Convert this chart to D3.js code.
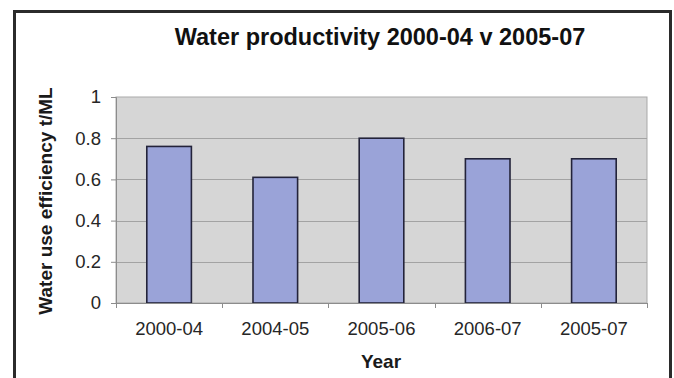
<!DOCTYPE html>
<html>
<head>
<meta charset="utf-8">
<script src="https://cdn.jsdelivr.net/npm/d3@7"></script>
<style>
  html, body { margin: 0; padding: 0; background: #fff; }
  svg { display: block; font-family: "Liberation Sans", Arial, Helvetica, sans-serif; }
</style>
</head>
<body>
<svg id="chart" width="674" height="378"></svg>
<script>
// Water use efficiency (t/ML) by period
const years = ["2000-04", "2004-05", "2005-06", "2006-07", "2005-07"];
const efficiency = [0.76, 0.61, 0.80, 0.70, 0.70];
const yTicks = [0, 0.2, 0.4, 0.6, 0.8, 1];
const yTickLabels = ["0", "0.2", "0.4", "0.6", "0.8", "1"];

const titleText = "Water productivity 2000-04 v 2005-07";
const xTitle = "Year";
const yTitle = "Water use efficiency t/ML";

const svg = d3.select("#chart");
const plot = { left: 116, right: 647, top: 97, bottom: 303 };

// Outer frame (open at the bottom edge of the canvas)
svg.append("path")
  .attr("d", "M14.5,380 L14.5,11.5 L670.5,11.5 L670.5,380")
  .attr("fill", "none")
  .attr("stroke", "#2b2b2b")
  .attr("stroke-width", 3);

const x = d3.scaleBand()
  .domain(years)
  .range([plot.left, plot.right])
  .paddingInner(0.58)
  .paddingOuter(0.29);

const y = d3.scaleLinear()
  .domain([0, 1])
  .range([plot.bottom, plot.top]);

// Plot area background
svg.append("rect")
  .attr("x", plot.left)
  .attr("y", plot.top)
  .attr("width", plot.right - plot.left)
  .attr("height", plot.bottom - plot.top)
  .attr("fill", "#d6d6d6")
  .attr("stroke", "#a9a9a9")
  .attr("stroke-width", 1);

// Horizontal gridlines
svg.append("g")
  .selectAll("line")
  .data(yTicks.filter(t => t > 0 && t < 1))
  .join("line")
  .attr("x1", plot.left)
  .attr("x2", plot.right)
  .attr("y1", d => Math.round(y(d)) + 0.5)
  .attr("y2", d => Math.round(y(d)) + 0.5)
  .attr("stroke", "#a3a3a3")
  .attr("stroke-width", 1);

// Bars
svg.append("g")
  .selectAll("rect")
  .data(years.map((c, i) => ({ c, v: efficiency[i] })))
  .join("rect")
  .attr("x", d => x(d.c))
  .attr("y", d => y(d.v))
  .attr("width", x.bandwidth())
  .attr("height", d => y(0) - y(d.v))
  .attr("fill", "#9aa3d8")
  .attr("stroke", "#23233a")
  .attr("stroke-width", 1.6);

// Y axis
const yAxis = d3.axisLeft(y)
  .tickValues(yTicks)
  .tickFormat((d, i) => yTickLabels[i])
  .tickSize(5)
  .tickPadding(10);

const gy = svg.append("g")
  .attr("transform", `translate(${plot.left},0)`)
  .call(yAxis);
gy.select(".domain").attr("stroke", "#8c8c8c");
gy.selectAll(".tick line").attr("stroke", "#8c8c8c");
gy.selectAll(".tick text")
  .attr("font-size", 18.5)
  .attr("font-family", "Liberation Sans, Arial, sans-serif")
  .attr("fill", "#262626");

// X axis; ticks sit on category boundaries
const xAxis = d3.axisBottom(x)
  .tickSize(0)
  .tickPadding(19);

const gx = svg.append("g")
  .attr("transform", `translate(0,${plot.bottom})`)
  .call(xAxis);
gx.select(".domain").attr("stroke", "#8c8c8c");
gx.selectAll(".tick text")
  .attr("font-size", 18.5)
  .attr("font-family", "Liberation Sans, Arial, sans-serif")
  .attr("fill", "#262626");

const boundaries = d3.range(years.length + 1).map(i => plot.left + i * x.step());
svg.append("g")
  .selectAll("line")
  .data(boundaries)
  .join("line")
  .attr("x1", d => Math.round(d) + 0.5)
  .attr("x2", d => Math.round(d) + 0.5)
  .attr("y1", plot.bottom)
  .attr("y2", plot.bottom + 5)
  .attr("stroke", "#8c8c8c");

// Title
svg.append("text")
  .attr("x", 380)
  .attr("y", 45)
  .attr("text-anchor", "middle")
  .attr("font-size", 23.5)
  .attr("font-weight", "bold")
  .attr("fill", "#111")
  .text(titleText);

// X axis title
svg.append("text")
  .attr("x", 381)
  .attr("y", 368)
  .attr("text-anchor", "middle")
  .attr("font-size", 19)
  .attr("font-weight", "bold")
  .attr("fill", "#1a1a1a")
  .text(xTitle);

// Y axis title
svg.append("text")
  .attr("transform", "translate(52,201) rotate(-90)")
  .attr("text-anchor", "middle")
  .attr("font-size", 19)
  .attr("font-weight", "bold")
  .attr("fill", "#1a1a1a")
  .text(yTitle);
</script>
</body>
</html>
